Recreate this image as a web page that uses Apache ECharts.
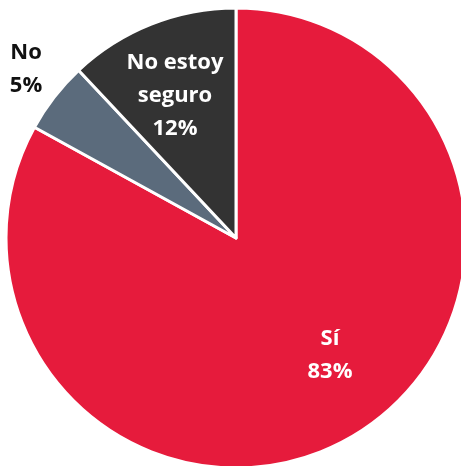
<!DOCTYPE html>
<html>
<head>
<meta charset="utf-8">
<script src="https://cdn.jsdelivr.net/npm/echarts@6/dist/echarts.min.js"></script>
<style>
  html, body { margin: 0; padding: 0; background: #ffffff; }
  #chart { width: 461px; height: 466px; }
</style>
</head>
<body>
<div id="chart"></div>
<script>
// Survey answers and their shares (%)
const categories = ['Sí', 'No', 'No estoy\nseguro'];
const values = [83, 5, 12];
const colors = ['#E61B3C', '#5B6B7C', '#333333'];
const labelColors = ['#ffffff', '#111111', '#ffffff'];

// Label anchor points (px) for each slice
const labelPos = [[330, 355], [26, 69], [175, 96]];

const chart = echarts.init(document.getElementById('chart'), null, { renderer: 'canvas' });

chart.setOption({
  animation: false,
  series: [{
    type: 'pie',
    center: [236, 238],
    radius: [0, 230],
    startAngle: 90,
    clockwise: true,
    avoidLabelOverlap: false,
    itemStyle: { borderColor: '#ffffff', borderWidth: 3 },
    label: {
      show: true,
      position: 'inside',
      fontFamily: '"Open Sans", sans-serif',
      fontWeight: 'bold',
      fontSize: 22,
      lineHeight: 33,
      align: 'center',
      formatter: p => p.name + '\n' + p.value + '%'
    },
    labelLine: { show: false },
    labelLayout: p => ({
      x: labelPos[p.dataIndex][0],
      y: labelPos[p.dataIndex][1],
      align: 'center',
      verticalAlign: 'middle'
    }),
    data: categories.map((c, i) => ({
      name: c,
      value: values[i],
      itemStyle: { color: colors[i] },
      label: { color: labelColors[i] }
    }))
  }]
});
</script>
</body>
</html>
